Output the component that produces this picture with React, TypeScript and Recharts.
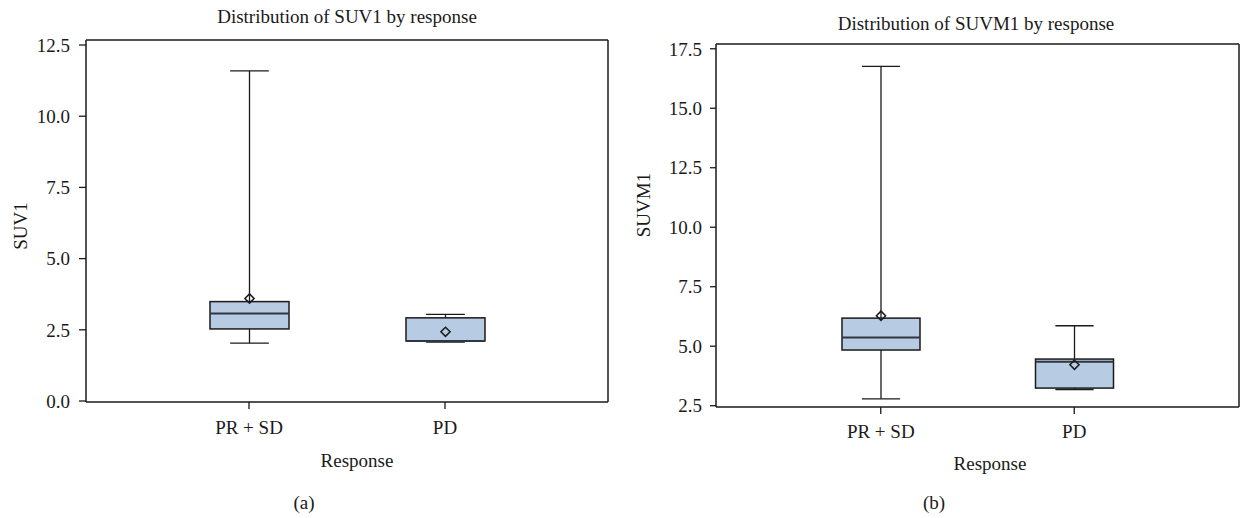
import React from 'react';
import { ComposedChart, Bar, XAxis, YAxis, CartesianGrid } from 'recharts';

// ---- data ----
const categories = ['PR + SD', 'PD'];

const suv1Min = [2.03, 2.07];
const suv1Q1 = [2.53, 2.11];
const suv1Median = [3.07, 2.11];
const suv1Q3 = [3.49, 2.92];
const suv1Max = [11.59, 3.04];
const suv1Mean = [3.6, 2.43];
const suv1Ticks = [0, 2.5, 5, 7.5, 10, 12.5];

const suvm1Min = [2.79, 3.18];
const suvm1Q1 = [4.84, 3.24];
const suvm1Median = [5.37, 4.35];
const suvm1Q3 = [6.18, 4.46];
const suvm1Max = [16.76, 5.86];
const suvm1Mean = [6.28, 4.22];
const suvm1Ticks = [2.5, 5, 7.5, 10, 12.5, 15, 17.5];

const build = (mn: number[], q1: number[], md: number[], q3: number[], mx: number[], mean: number[]) =>
  categories.map((c, i) => ({
    response: c,
    range: [mn[i], mx[i]],
    min: mn[i],
    q1: q1[i],
    median: md[i],
    q3: q3[i],
    max: mx[i],
    mean: mean[i],
  }));

const suv1Data = build(suv1Min, suv1Q1, suv1Median, suv1Q3, suv1Max, suv1Mean);
const suvm1Data = build(suvm1Min, suvm1Q1, suvm1Median, suvm1Q3, suvm1Max, suvm1Mean);

const FONT = '"Liberation Serif", "DejaVu Serif", serif';
const INK = '#1a1a1a';
const BOX_FILL = '#b7cce3';
const FS = 19;

const BoxShape = (props: any) => {
  const { x, y, width, height, payload } = props;
  if (!payload) return null;
  const { min, max, q1, q3, median, mean } = payload;
  const top = Math.min(y, y + height);
  const bot = Math.max(y, y + height);
  const span = max - min || 1;
  const py = (v: number) => bot - ((bot - top) * (v - min)) / span;
  const cx = x + width / 2;
  const capW = width * 0.49;
  const yMax = py(max);
  const yMin = py(min);
  const yQ1 = py(q1);
  const yQ3 = py(q3);
  const yMed = py(median);
  const yMean = py(mean);
  const d = 4.6;
  return (
    <g>
      <line x1={cx} x2={cx} y1={yMax} y2={yQ3} stroke={INK} strokeWidth={1.3} />
      <line x1={cx} x2={cx} y1={yQ1} y2={yMin} stroke={INK} strokeWidth={1.3} />
      <line x1={cx - capW / 2} x2={cx + capW / 2} y1={yMax} y2={yMax} stroke={INK} strokeWidth={1.3} />
      <line x1={cx - capW / 2} x2={cx + capW / 2} y1={yMin} y2={yMin} stroke={INK} strokeWidth={1.3} />
      <rect x={x} y={yQ3} width={width} height={Math.max(yQ1 - yQ3, 0.5)} fill={BOX_FILL} stroke={INK} strokeWidth={1.5} />
      <line x1={x} x2={x + width} y1={yMed} y2={yMed} stroke="#2e3640" strokeWidth={2} />
      <polygon
        points={`${cx},${yMean - d} ${cx + d},${yMean} ${cx},${yMean + d} ${cx - d},${yMean}`}
        fill="none"
        stroke={INK}
        strokeWidth={1.5}
      />
    </g>
  );
};

const XTick = (props: any) => {
  const { x, y, payload } = props;
  return (
    <text x={x} y={y} dy="0.71em" textAnchor="middle" fontFamily={FONT} fontSize={FS} fill={INK}>
      {payload.value}
    </text>
  );
};

const YTick = (props: any) => {
  const { x, y, payload } = props;
  return (
    <text x={x} y={y} dy="0.355em" textAnchor="end" fontFamily={FONT} fontSize={FS} fill={INK}>
      {Number(payload.value).toFixed(1)}
    </text>
  );
};

type PanelProps = {
  data: any[];
  domain: [number, number];
  ticks: number[];
  margin: { top: number; right: number; bottom: number; left: number };
  yWidth: number;
  padding: number;
  barSize: number;
  yTickSize: number;
  yTickMargin: number;
  xTickMargin: number;
};

const Panel = (p: PanelProps) => (
  <ComposedChart width={620} height={518} data={p.data} margin={p.margin} style={{ fontFamily: FONT }}>
    <CartesianGrid
      stroke={INK}
      strokeWidth={1.5}
      strokeDasharray="0"
      fill="none"
      horizontalCoordinatesGenerator={({ offset }: any) => [offset.top]}
      verticalCoordinatesGenerator={({ offset }: any) => [offset.left + offset.width]}
    />
    <XAxis
      dataKey="response"
      type="category"
      padding={{ left: p.padding, right: p.padding }}
      tickSize={7}
      tickMargin={p.xTickMargin}
      tick={<XTick />}
      tickLine={{ stroke: INK, strokeWidth: 1.3 }}
      axisLine={{ stroke: INK, strokeWidth: 1.5 }}
      height={30}
      interval={0}
    />
    <YAxis
      type="number"
      domain={p.domain}
      ticks={p.ticks}
      allowDataOverflow
      interval={0}
      tickSize={p.yTickSize}
      tickMargin={p.yTickMargin}
      tick={<YTick />}
      tickLine={{ stroke: INK, strokeWidth: 1.3 }}
      axisLine={{ stroke: INK, strokeWidth: 1.5 }}
      width={p.yWidth}
    />
    <Bar dataKey="range" barSize={p.barSize} shape={BoxShape} isAnimationActive={false} />
  </ComposedChart>
);

const txt = { fontFamily: FONT, fontSize: FS, fill: INK } as const;

export default function App() {
  return (
    <div style={{ position: 'absolute', left: 0, top: 0, width: 1240, height: 518, background: '#fff', overflow: 'hidden' }}>
      <div style={{ position: 'absolute', left: 0, top: 0 }}>
        <Panel
          data={suv1Data}
          domain={[-0.035, 12.676]}
          ticks={suv1Ticks}
          margin={{ top: 40, right: 12, bottom: 86, left: 0 }}
          yWidth={86}
          padding={65}
          barSize={79}
          yTickSize={7}
          yTickMargin={9}
          xTickMargin={12}
        />
      </div>
      <div style={{ position: 'absolute', left: 620, top: 0 }}>
        <Panel
          data={suvm1Data}
          domain={[2.445, 17.7]}
          ticks={suvm1Ticks}
          margin={{ top: 44, right: 1, bottom: 81, left: 0 }}
          yWidth={96}
          padding={68}
          barSize={78}
          yTickSize={6}
          yTickMargin={8}
          xTickMargin={11}
        />
      </div>
      <svg width={1240} height={518} style={{ position: 'absolute', left: 0, top: 0, pointerEvents: 'none' }}>
        <text x={347} y={23} textAnchor="middle" {...txt}>Distribution of SUV1 by response</text>
        <text x={976} y={30} textAnchor="middle" {...txt}>Distribution of SUVM1 by response</text>
        <text x={357} y={467} textAnchor="middle" {...txt}>Response</text>
        <text x={990} y={470} textAnchor="middle" {...txt}>Response</text>
        <text x={27} y={226} textAnchor="middle" transform="rotate(-90 27 226)" {...txt}>SUV1</text>
        <text x={650} y={205} textAnchor="middle" transform="rotate(-90 650 205)" {...txt}>SUVM1</text>
        <text x={304} y={509} textAnchor="middle" {...txt}>(a)</text>
        <text x={934} y={509} textAnchor="middle" {...txt}>(b)</text>
      </svg>
    </div>
  );
}
